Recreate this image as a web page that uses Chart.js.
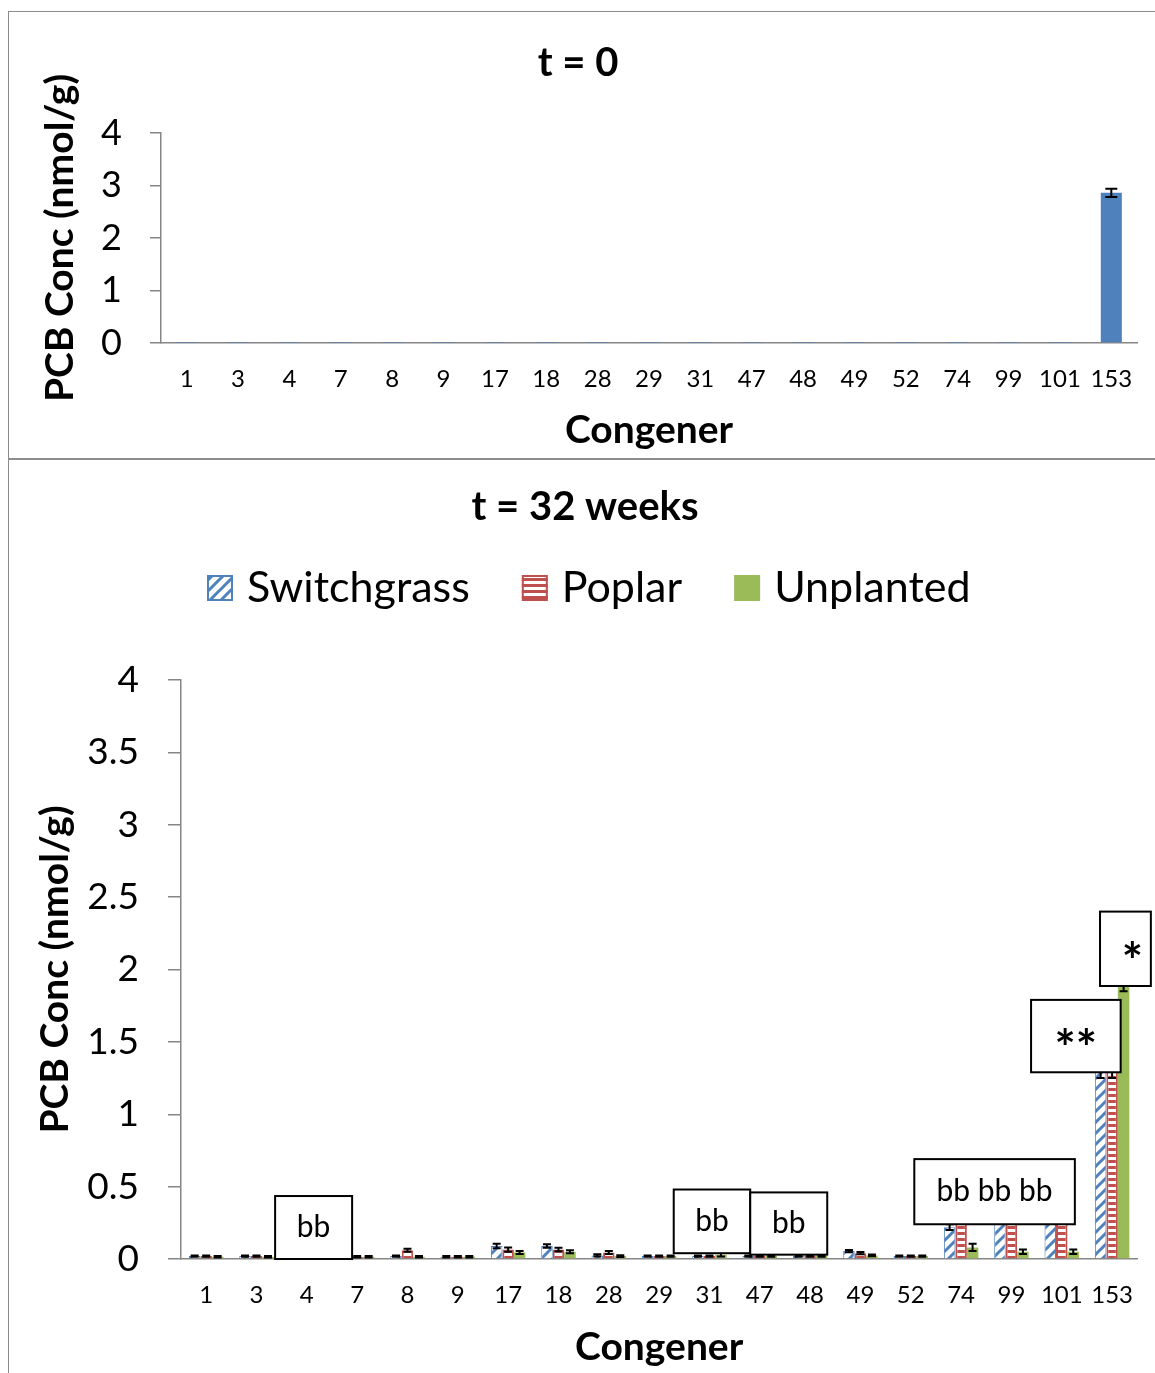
<!DOCTYPE html>
<html>
<head>
<meta charset="utf-8">
<script src="https://cdn.jsdelivr.net/npm/chart.js@4.4.0/dist/chart.umd.min.js"></script>
<style>
  body { margin: 0; background: #fff; }
  #wrap { position: relative; width: 1155px; height: 1373px; overflow: hidden; }
  canvas { position: absolute; left: 0; }
  .line { position: absolute; background: #8c8c8c; }
</style>
</head>
<body>
<div id="wrap">
  <canvas id="chartT0" width="1155" height="458" style="top:0"></canvas>
  <canvas id="chartT32" width="1155" height="915" style="top:458px"></canvas>
  <div class="line" style="left:8px;top:11px;width:1147px;height:1px"></div>
  <div class="line" style="left:8px;top:11px;width:1px;height:1362px"></div>
  <div class="line" style="left:8px;top:458px;width:1147px;height:2px"></div>
</div>
<script>
// 데이터
const congeners = ["1", "3", "4", "7", "8", "9", "17", "18", "28", "29", "31", "47", "48", "49", "52", "74", "99", "101", "153"];

// t = 0
const t0Values = [0.005, 0.005, 0.005, 0.005, 0.005, 0.005, 0.005, 0.005, 0.005, 0.005, 0.005, 0.005, 0.005, 0.005, 0.005, 0.005, 0.005, 0.005, 2.86];
const t0Errors = [0, 0, 0, 0, 0, 0, 0, 0, 0, 0, 0, 0, 0, 0, 0, 0, 0, 0, 0.08];

// t = 32 weeks
const switchgrass = [0.02, 0.02, 0.02, 0.015, 0.02, 0.015, 0.09, 0.09, 0.025, 0.02, 0.02, 0.02, 0.02, 0.055, 0.02, 0.22, 0.3, 0.3, 1.3];
const switchgrassErr = [0.005, 0.005, 0.005, 0.005, 0.005, 0.005, 0.015, 0.012, 0.008, 0.005, 0.005, 0.005, 0.005, 0.008, 0.005, 0.02, 0.02, 0.02, 0.05];
const poplar = [0.02, 0.02, 0.02, 0.015, 0.06, 0.015, 0.065, 0.065, 0.045, 0.02, 0.02, 0.02, 0.02, 0.04, 0.02, 0.3, 0.3, 0.3, 1.3];
const poplarErr = [0.005, 0.005, 0.005, 0.005, 0.01, 0.005, 0.015, 0.012, 0.01, 0.005, 0.005, 0.005, 0.005, 0.008, 0.005, 0.03, 0.03, 0.03, 0.05];
const unplanted = [0.015, 0.015, 0.02, 0.015, 0.015, 0.015, 0.045, 0.05, 0.02, 0.02, 0.03, 0.02, 0.02, 0.025, 0.02, 0.08, 0.05, 0.05, 1.9];
const unplantedErr = [0.005, 0.005, 0.005, 0.005, 0.005, 0.005, 0.01, 0.01, 0.006, 0.005, 0.012, 0.005, 0.005, 0.006, 0.005, 0.025, 0.015, 0.015, 0.05];

// 유의성 표시 (category 단위 / 값 단위)
const noteTexts = ["bb", "bb", "bb", "bb bb bb", "**", "*"];
const noteFrom = [1.37, 9.29, 10.81, 14.07, 16.39, 17.76];
const noteTo = [2.9, 10.81, 12.34, 17.26, 18.17, 18.77];
const noteTop = [0.435, 0.48, 0.46, 0.69, 1.79, 2.4];
const noteBottom = [0, 0.04, 0.03, 0.24, 1.29, 1.886];

const FONT = "Lato, 'Open Sans', sans-serif";
Chart.defaults.font.family = FONT;
Chart.defaults.color = "#000";

const BLUE = "#4f81bd", RED = "#c0504d", GREEN = "#9bbb59", AXIS = "#868686";

// 패턴
function diagPattern(color) {
  const s = 11;
  const c = document.createElement("canvas");
  c.width = c.height = s;
  const g = c.getContext("2d");
  g.fillStyle = "#fff";
  g.fillRect(0, 0, s, s);
  g.strokeStyle = color;
  g.lineWidth = 3;
  g.beginPath();
  g.moveTo(-2, s + 2); g.lineTo(s + 2, -2);
  g.moveTo(-2, 2); g.lineTo(2, -2);
  g.moveTo(s - 2, s + 2); g.lineTo(s + 2, s - 2);
  g.stroke();
  return g.createPattern(c, "repeat");
}
function hPattern(color) {
  const c = document.createElement("canvas");
  c.width = 6; c.height = 6;
  const g = c.getContext("2d");
  g.fillStyle = color;
  g.fillRect(0, 0, 6, 6);
  g.fillStyle = "#fff";
  g.fillRect(0, 3, 6, 3);
  return g.createPattern(c, "repeat");
}

// 오차 막대
const errorBars = {
  id: "errorBars",
  afterDatasetsDraw(chart) {
    const ctx = chart.ctx;
    const y = chart.scales.y;
    ctx.save();
    ctx.strokeStyle = "#000";
    ctx.lineWidth = 2;
    chart.data.datasets.forEach((ds, di) => {
      if (!ds.errors) return;
      const meta = chart.getDatasetMeta(di);
      const cap = ds.capWidth || 4;
      meta.data.forEach((bar, i) => {
        const e = ds.errors[i];
        if (!e) return;
        const v = ds.data[i];
        const y1 = y.getPixelForValue(v + e);
        const y2 = y.getPixelForValue(Math.max(v - e, 0));
        ctx.beginPath();
        ctx.moveTo(bar.x, y1); ctx.lineTo(bar.x, y2);
        ctx.moveTo(bar.x - cap, y1); ctx.lineTo(bar.x + cap, y1);
        ctx.moveTo(bar.x - cap, y2); ctx.lineTo(bar.x + cap, y2);
        ctx.stroke();
      });
    });
    ctx.restore();
  }
};

// 상자 표시
const notes = {
  id: "notes",
  afterDatasetsDraw(chart) {
    const ctx = chart.ctx;
    const x = chart.scales.x, y = chart.scales.y;
    ctx.save();
    noteTexts.forEach((t, i) => {
      const l = x.getPixelForValue(noteFrom[i]);
      const r = x.getPixelForValue(noteTo[i]);
      const top = y.getPixelForValue(noteTop[i]);
      const bot = y.getPixelForValue(noteBottom[i]);
      ctx.fillStyle = "#fff";
      ctx.fillRect(l, top, r - l, bot - top);
      ctx.strokeStyle = "#000";
      ctx.lineWidth = 2;
      ctx.strokeRect(l, top, r - l, bot - top);
      const star = /^\*+$/.test(t);
      const size = star ? 50 : 30;
      ctx.font = (star ? "bold " : "") + size + "px " + FONT;
      ctx.fillStyle = "#000";
      ctx.textAlign = "center";
      ctx.textBaseline = "middle";
      ctx.fillText(t, (l + r) / 2 + (t === "*" ? 7 : 0), (top + bot) / 2 + (star ? size * 0.28 : 0));
    });
    ctx.restore();
  }
};

// 범례
const legendBoxes = {
  id: "legendBoxes",
  afterDraw(chart) {
    const ctx = chart.ctx;
    const cy = 130;
    let x = 207;
    ctx.save();
    ctx.font = "43px " + FONT;
    ctx.textBaseline = "middle";
    ctx.textAlign = "left";
    chart.data.datasets.forEach((ds) => {
      ctx.fillStyle = ds.backgroundColor;
      ctx.fillRect(x, cy - 13, 26, 26);
      if (ds.borderWidth) {
        ctx.strokeStyle = ds.borderColor;
        ctx.lineWidth = 2;
        ctx.strokeRect(x + 1, cy - 12, 24, 24);
      }
      ctx.fillStyle = "#000";
      ctx.fillText(ds.label, x + 40, cy);
      x += 40 + ctx.measureText(ds.label).width + 52;
    });
    ctx.restore();
  }
};

function makeOptions(cfg) {
  return {
    responsive: false,
    animation: false,
    layout: { padding: cfg.pad },
    plugins: {
      legend: { display: false },
      tooltip: { enabled: false },
      title: {
        display: true,
        text: cfg.title,
        font: { size: 40, weight: "bold" },
        color: "#000",
        padding: cfg.titlePad
      }
    },
    scales: {
      x: {
        grid: { display: false, drawTicks: false },
        border: { display: true, color: AXIS, width: 1.5 },
        ticks: { font: { size: 24 }, padding: 21.6, autoSkip: false, maxRotation: 0 },
        title: { display: true, text: "Congener", font: { size: 39, weight: "bold" }, padding: { top: 0, bottom: cfg.xTitlePad } },
        afterFit: (s) => { s.height = cfg.xHeight; }
      },
      y: {
        min: 0,
        max: 4,
        grid: { drawOnChartArea: false, drawTicks: true, tickLength: cfg.tickLen, color: AXIS, lineWidth: 1.5 },
        border: { display: true, color: AXIS, width: 1.5 },
        ticks: { stepSize: cfg.step, font: { size: cfg.yFont }, padding: cfg.yPad, callback: (v) => String(v) },
        title: { display: true, text: "PCB Conc (nmol/g)", font: { size: 39, weight: "bold" }, padding: { top: cfg.yTitlePad, bottom: 0 } },
        afterFit: (s) => { s.width = cfg.yWidth; }
      }
    }
  };
}

// t = 0 차트
new Chart(document.getElementById("chartT0"), {
  type: "bar",
  data: {
    labels: congeners,
    datasets: [{
      label: "t0",
      data: t0Values,
      errors: t0Errors,
      capWidth: 6,
      backgroundColor: BLUE,
      categoryPercentage: 1,
      barPercentage: 0.41
    }]
  },
  options: makeOptions({
    pad: { top: 12, left: 19, right: 18, bottom: 0 },
    title: "t = 0",
    titlePad: { top: 27, bottom: 46 },
    xTitlePad: 4.6,
    xHeight: 115,
    tickLen: 11,
    step: 1,
    yFont: 36,
    yPad: 28,
    yTitlePad: 17.6,
    yWidth: 142
  }),
  plugins: [errorBars]
});

// t = 32 weeks 차트
new Chart(document.getElementById("chartT32"), {
  type: "bar",
  data: {
    labels: congeners,
    datasets: [
      { label: "Switchgrass", data: switchgrass, errors: switchgrassErr, backgroundColor: diagPattern(BLUE), borderColor: BLUE, borderWidth: 1 },
      { label: "Poplar", data: poplar, errors: poplarErr, backgroundColor: hPattern(RED), borderColor: RED, borderWidth: 2 },
      { label: "Unplanted", data: unplanted, errors: unplantedErr, backgroundColor: GREEN, borderWidth: 0 }
    ].map((d) => Object.assign(d, { categoryPercentage: 0.685, barPercentage: 1 }))
  },
  options: makeOptions({
    pad: { top: 0, left: 31, right: 16, bottom: 0 },
    title: "t = 32 weeks",
    titlePad: { top: 25, bottom: 149 },
    xTitlePad: 2.6,
    xHeight: 114,
    tickLen: 13,
    step: 0.5,
    yFont: 37,
    yPad: 29,
    yTitlePad: 0.6,
    yWidth: 150
  }),
  plugins: [errorBars, notes, legendBoxes]
});
</script>
</body>
</html>
